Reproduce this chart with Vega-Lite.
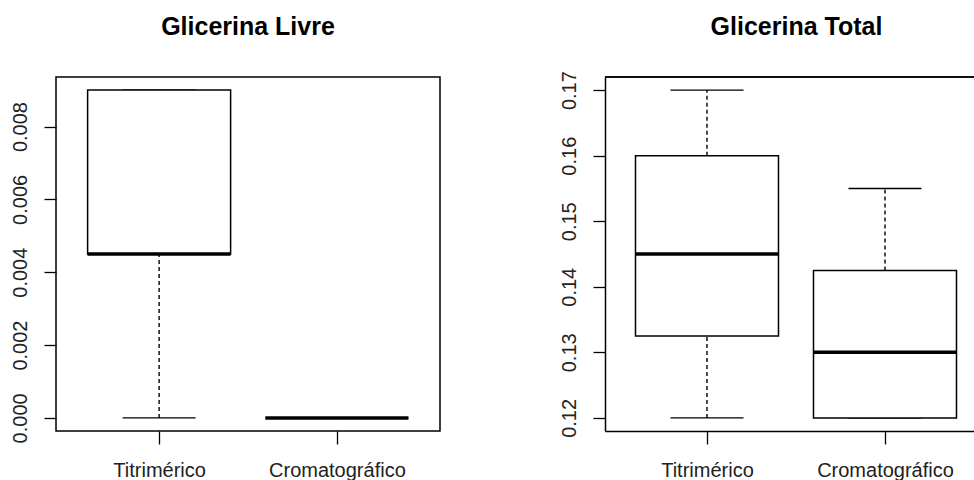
{
  "$schema": "https://vega.github.io/schema/vega-lite/v6.json",
  "padding": {"left": 9, "top": 14, "right": 0, "bottom": 0},
  "bounds": "flush",
  "spacing": 165,
  "datasets": {
    "livre": [
      {"metodo": "Titrimérico", "min": 0, "q1": 0.0045, "med": 0.0045, "q3": 0.009, "max": 0.009},
      {"metodo": "Cromatográfico", "min": 0, "q1": 0, "med": 0, "q3": 0, "max": 0}
    ],
    "total": [
      {"metodo": "Titrimérico", "min": 0.12, "q1": 0.1325, "med": 0.145, "q3": 0.16, "max": 0.17},
      {"metodo": "Cromatográfico", "min": 0.12, "q1": 0.12, "med": 0.13, "q3": 0.1425, "max": 0.155}
    ]
  },
  "config": {
    "font": "Liberation Sans",
    "view": {"stroke": "black", "strokeWidth": 1.5},
    "tick": {"opacity": 1},
    "title": {"fontSize": 25, "fontWeight": "bold", "color": "black", "baseline": "alphabetic", "frame": "group", "anchor": "middle"},
    "axisY": {"grid": false, "domain": false, "tickColor": "black", "tickSize": 12, "tickWidth": 1.3, "labelAngle": -90, "labelAlign": "center", "labelBaseline": "alphabetic", "labelPadding": 18, "labelFontSize": 20, "labelColor": "#222", "title": null},
    "axisX": {"grid": false, "domain": false, "tickColor": "black", "tickSize": 13, "tickWidth": 1.3, "labelAngle": 0, "labelPadding": 16, "labelFontSize": 20, "labelColor": "#222", "title": null}
  },
  "hconcat": [
    {
      "title": {"text": "Glicerina Livre", "offset": 37},
      "width": 384,
      "height": 354,
      "data": {"name": "livre"},
      "encoding": {
        "x": {"field": "metodo", "type": "nominal", "sort": ["Titrimérico", "Cromatográfico"], "scale": {"type": "point", "padding": 0.58}}
      },
      "layer": [
        {"mark": {"type": "rule", "strokeDash": [4, 3], "strokeWidth": 1.4, "color": "black"},
         "encoding": {"y": {"field": "min", "type": "quantitative", "scale": {"domain": [-0.00036, 0.00936], "nice": false, "zero": false}, "axis": {"values": [0, 0.002, 0.004, 0.006, 0.008], "format": ".3f"}}, "y2": {"field": "q1"}}},
        {"mark": {"type": "rule", "strokeDash": [4, 3], "strokeWidth": 1.4, "color": "black"},
         "encoding": {"y": {"field": "q3", "type": "quantitative"}, "y2": {"field": "max"}}},
        {"mark": {"type": "tick", "size": 73, "thickness": 1.4, "color": "black", "orient": "horizontal"},
         "encoding": {"y": {"field": "min", "type": "quantitative"}}},
        {"mark": {"type": "tick", "size": 73, "thickness": 1.4, "color": "black", "orient": "horizontal"},
         "encoding": {"y": {"field": "max", "type": "quantitative"}}},
        {"mark": {"type": "bar", "size": 143, "fill": "white", "stroke": "black", "strokeWidth": 1.5},
         "encoding": {"y": {"field": "q1", "type": "quantitative"}, "y2": {"field": "q3"}}},
        {"mark": {"type": "tick", "size": 143, "thickness": 3.5, "color": "black", "orient": "horizontal"},
         "encoding": {"y": {"field": "med", "type": "quantitative"}}}
      ]
    },
    {
      "title": {"text": "Glicerina Total", "offset": 31, "dx": 7},
      "width": 369,
      "height": 354,
      "view": {"stroke": null},
      "data": {"name": "total"},
      "layer": [
        {"mark": {"type": "rule", "strokeDash": [4, 3], "strokeWidth": 1.4, "color": "black"},
         "encoding": {
           "x": {"field": "metodo", "type": "nominal", "sort": ["Titrimérico", "Cromatográfico"], "scale": {"type": "point", "padding": 0.5365, "align": 0.534}, "axis": {"domain": true, "domainColor": "black", "domainWidth": 1.5}},
           "y": {"field": "min", "type": "quantitative", "scale": {"domain": [0.118, 0.172], "nice": false, "zero": false}, "axis": {"values": [0.12, 0.13, 0.14, 0.15, 0.16, 0.17], "format": ".2f", "domain": true, "domainColor": "black", "domainWidth": 1.5}}, "y2": {"field": "q1"}}},
        {"mark": {"type": "rule", "strokeDash": [4, 3], "strokeWidth": 1.4, "color": "black"},
         "encoding": {"x": {"field": "metodo", "type": "nominal", "sort": ["Titrimérico", "Cromatográfico"]}, "y": {"field": "q3", "type": "quantitative"}, "y2": {"field": "max"}}},
        {"mark": {"type": "tick", "size": 73, "thickness": 1.4, "color": "black", "orient": "horizontal"},
         "encoding": {"x": {"field": "metodo", "type": "nominal", "sort": ["Titrimérico", "Cromatográfico"]}, "y": {"field": "min", "type": "quantitative"}}},
        {"mark": {"type": "tick", "size": 73, "thickness": 1.4, "color": "black", "orient": "horizontal"},
         "encoding": {"x": {"field": "metodo", "type": "nominal", "sort": ["Titrimérico", "Cromatográfico"]}, "y": {"field": "max", "type": "quantitative"}}},
        {"mark": {"type": "bar", "size": 143, "fill": "white", "stroke": "black", "strokeWidth": 1.5},
         "encoding": {"x": {"field": "metodo", "type": "nominal", "sort": ["Titrimérico", "Cromatográfico"]}, "y": {"field": "q1", "type": "quantitative"}, "y2": {"field": "q3"}}},
        {"mark": {"type": "tick", "size": 143, "thickness": 3.5, "color": "black", "orient": "horizontal"},
         "encoding": {"x": {"field": "metodo", "type": "nominal", "sort": ["Titrimérico", "Cromatográfico"]}, "y": {"field": "med", "type": "quantitative"}}},
        {"mark": {"type": "rule", "strokeWidth": 1.5, "color": "black"},
         "encoding": {"y": {"datum": 0.172, "type": "quantitative"}}}
      ]
    }
  ]
}
